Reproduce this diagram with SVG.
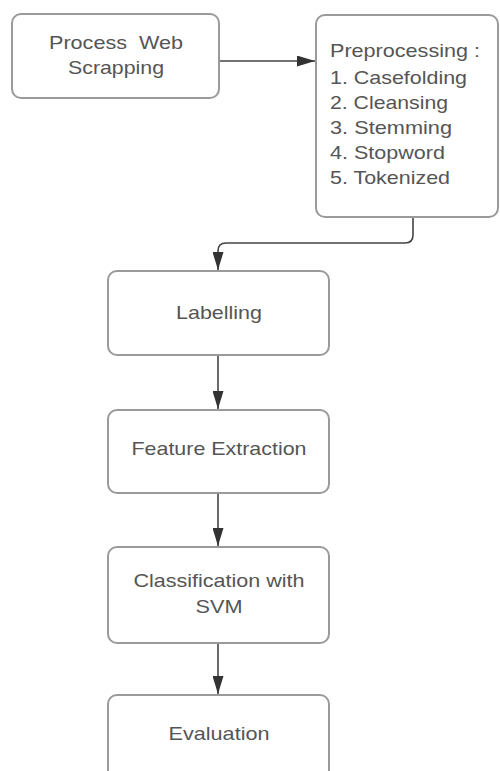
<svg xmlns="http://www.w3.org/2000/svg" width="500" height="771" viewBox="0 0 500 771">
<style>
.box{fill:#fff;stroke:#9a9a9a;stroke-width:2}
.t{font-family:"Liberation Sans",Arial,sans-serif;font-size:19px;fill:#555}
.c{text-anchor:middle}
.ln{fill:none;stroke:#444;stroke-width:1.6}
</style>
<defs>
<marker id="ah" viewBox="0 0 18 11" refX="18" refY="5.5" markerWidth="18" markerHeight="11" markerUnits="userSpaceOnUse" orient="auto">
<path d="M0,0 L18,5.5 L0,11 Z" fill="#333"/>
</marker>
</defs>
<rect width="500" height="771" fill="#fff"/>
<g id="connectors">
<path class="ln" d="M219,61 H315" marker-end="url(#ah)"/>
<path class="ln" d="M413,217 V235 Q413,243 405,243 H226 Q218,243 218,251 V270" marker-end="url(#ah)"/>
<path class="ln" d="M218,355 V409" marker-end="url(#ah)"/>
<path class="ln" d="M218,493 V546" marker-end="url(#ah)"/>
<path class="ln" d="M218,643 V694" marker-end="url(#ah)"/>
</g>
<g id="web-scrapping">
<rect class="box" x="12" y="14" width="207" height="84" rx="9"/>
<text class="t c" x="116" y="49" xml:space="preserve" textLength="134" lengthAdjust="spacingAndGlyphs">Process  Web</text>
<text class="t c" x="116" y="74" textLength="96" lengthAdjust="spacingAndGlyphs">Scrapping</text>
</g>
<g id="preprocessing">
<rect class="box" x="316" y="15" width="182" height="202" rx="9"/>
<text class="t" x="330" y="57" textLength="150" lengthAdjust="spacingAndGlyphs">Preprocessing :</text>
<text class="t" x="330" y="84" textLength="137" lengthAdjust="spacingAndGlyphs">1. Casefolding</text>
<text class="t" x="330" y="109" textLength="118" lengthAdjust="spacingAndGlyphs">2. Cleansing</text>
<text class="t" x="330" y="134" textLength="122" lengthAdjust="spacingAndGlyphs">3. Stemming</text>
<text class="t" x="330" y="159" textLength="115" lengthAdjust="spacingAndGlyphs">4. Stopword</text>
<text class="t" x="330" y="184" textLength="120" lengthAdjust="spacingAndGlyphs">5. Tokenized</text>
</g>
<g id="labelling">
<rect class="box" x="108" y="271" width="221" height="84" rx="9"/>
<text class="t c" x="219" y="319" textLength="86" lengthAdjust="spacingAndGlyphs">Labelling</text>
</g>
<g id="feature-extraction">
<rect class="box" x="108" y="410" width="221" height="83" rx="9"/>
<text class="t c" x="219" y="455" textLength="175" lengthAdjust="spacingAndGlyphs">Feature Extraction</text>
</g>
<g id="classification">
<rect class="box" x="108" y="547" width="221" height="96" rx="9"/>
<text class="t c" x="219" y="587" textLength="171" lengthAdjust="spacingAndGlyphs">Classification with</text>
<text class="t c" x="219" y="613" textLength="47" lengthAdjust="spacingAndGlyphs">SVM</text>
</g>
<g id="evaluation">
<rect class="box" x="108" y="695" width="221" height="100" rx="9"/>
<text class="t c" x="219" y="740" textLength="101" lengthAdjust="spacingAndGlyphs">Evaluation</text>
</g>
</svg>
